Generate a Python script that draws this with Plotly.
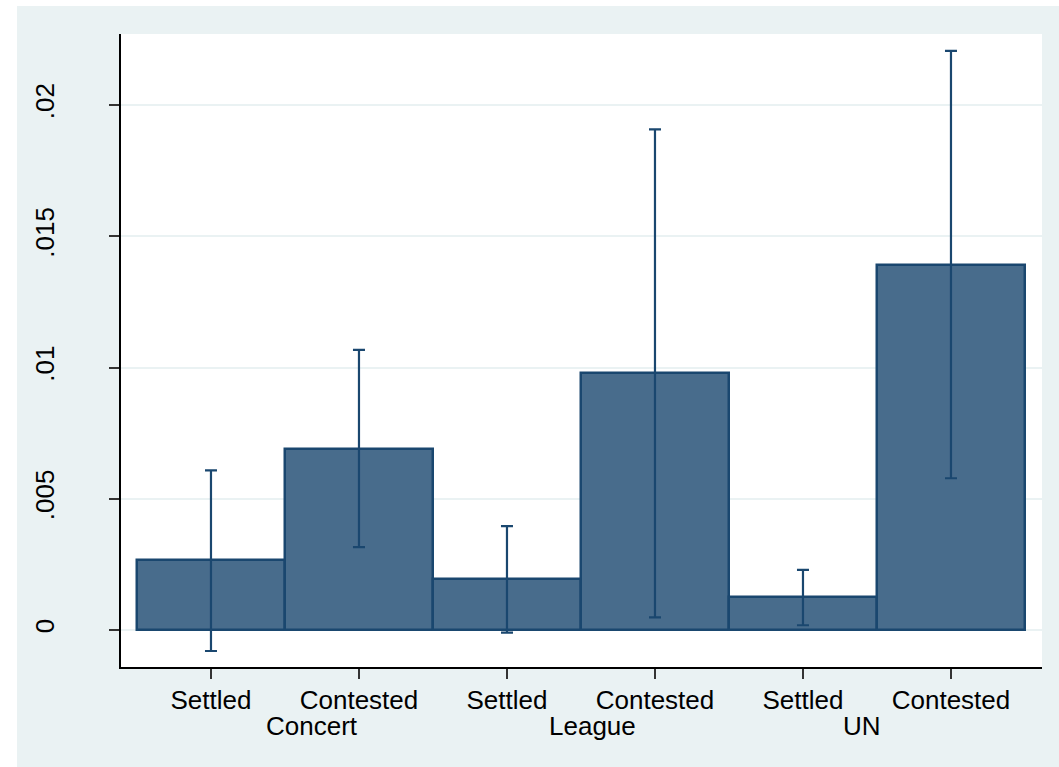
import plotly.graph_objects as go

# Group / outcome labels
groups = ["Concert", "League", "UN"]
outcomes = ["Settled", "Contested"]

# Mean rate per bar and its confidence interval bounds
means = [0.00266, 0.0069, 0.00193, 0.0098, 0.00126, 0.0139]
ci_low = [-0.0008, 0.00316, -0.0001, 0.00048, 0.00018, 0.00578]
ci_high = [0.00608, 0.01067, 0.00396, 0.01907, 0.00229, 0.02206]

# Y axis ticks
y_ticks = [0, 0.005, 0.01, 0.015, 0.02]
y_tick_text = ["0", ".005", ".01", ".015", ".02"]

# Group label positions along the category axis
group_label_x = [0.68, 2.58, 4.40]

x_pos = list(range(len(means)))
x_labels = [o for _ in groups for o in outcomes]

bar_fill = "#486c8c"
navy = "#1a476f"
bg = "#eaf2f3"
font_family = "Liberation Sans, Arial, Helvetica, sans-serif"

fig = go.Figure()
fig.add_trace(go.Bar(
    x=x_pos,
    y=means,
    width=1.0,
    marker=dict(color=bar_fill, line=dict(color=navy, width=2.5)),
    error_y=dict(
        type="data",
        symmetric=False,
        array=[h - m for h, m in zip(ci_high, means)],
        arrayminus=[m - l for l, m in zip(ci_low, means)],
        color=navy,
        thickness=2.2,
        width=6,
    ),
    showlegend=False,
    hoverinfo="skip",
))

annotations = [
    dict(x=gx, y=-0.0935, xref="x", yref="paper", text=g, showarrow=False,
         font=dict(size=26, color="black", family=font_family),
         xanchor="center", yanchor="middle")
    for gx, g in zip(group_label_x, groups)
]

# White strips along the top and left edges outside the shaded frame
shapes = [
    dict(type="rect", xref="paper", yref="paper", x0=-0.2, x1=-0.1129,
         y0=-0.3, y1=1.2, fillcolor="white", line=dict(width=0), layer="below"),
    dict(type="rect", xref="paper", yref="paper", x0=-0.2, x1=1.2,
         y0=1.0442, y1=1.2, fillcolor="white", line=dict(width=0), layer="below"),
]

fig.update_layout(
    width=1059,
    height=767,
    margin=dict(l=121, r=17, t=34, b=100),
    paper_bgcolor=bg,
    plot_bgcolor="white",
    bargap=0,
    font=dict(family=font_family, size=26, color="black"),
    annotations=annotations,
    shapes=shapes,
    xaxis=dict(
        range=[-0.608, 5.615],
        tickmode="array",
        tickvals=x_pos,
        ticktext=x_labels,
        ticks="outside",
        ticklen=10,
        tickwidth=1.5,
        tickcolor="#333333",
        showline=True,
        linecolor="black",
        linewidth=1.5,
        showgrid=False,
        zeroline=False,
        tickfont=dict(size=26),
        ticklabelstandoff=-1,
    ),
    yaxis=dict(
        range=[-0.00141, 0.022705],
        tickmode="array",
        tickvals=y_ticks,
        ticktext=y_tick_text,
        tickangle=-90,
        ticks="outside",
        ticklen=10,
        tickwidth=1.5,
        tickcolor="#333333",
        showline=True,
        linecolor="black",
        linewidth=1.5,
        showgrid=True,
        gridcolor=bg,
        gridwidth=2,
        zeroline=False,
        tickfont=dict(size=26),
        ticklabelstandoff=45,
    ),
)

fig.write_html("out.html")
